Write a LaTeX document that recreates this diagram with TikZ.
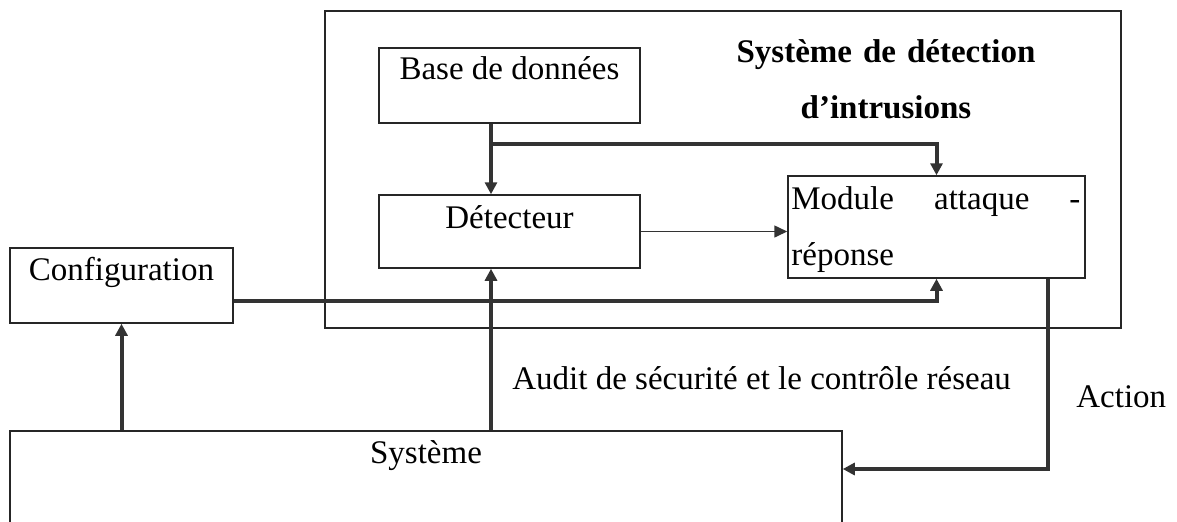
\documentclass[tikz,border=0pt]{standalone}
\usepackage{fontspec}
\setmainfont{Liberation Serif}
\usetikzlibrary{arrows.meta}
\tikzset{
  every node/.style={font=\fontsize{16.5}{28}\selectfont, inner sep=0pt},
  box/.style={draw=black!85, line width=0.75pt, rectangle},
  thick arrow/.style={draw=black!80, line width=2pt, -{Triangle[length=6pt,width=6pt]}},
  thin arrow/.style={draw=black!80, line width=0.75pt, -{Triangle[length=6.5pt,width=6pt]}},
  thick line/.style={draw=black!80, line width=2pt},
}
\begin{document}
\begin{tikzpicture}[x=0.5pt,y=-0.5pt]
\useasboundingbox (0,0) rectangle (1177,521);
% boxes
\node[box, minimum width=398pt, minimum height=158.5pt] (ids) at (723,169.5) {};
\node[box, minimum width=130.5pt, text height=15.5pt, text depth=22pt] (base) at (509.5,85.5) {Base de données};
\node[box, minimum width=130.5pt, text height=16.5pt, text depth=20pt] (det) at (509.5,231.5) {Détecteur};
\node[box, minimum width=148.5pt, minimum height=51pt] (mod) at (936.5,227) {};
\node[box, minimum width=111.5pt, text height=16pt, text depth=21.5pt] (conf) at (121.5,285.5) {Configuration};
\node[box, minimum width=416pt, text height=16pt, text depth=33.5pt] (sys) at (426,480.5) {Système};
% texts
\node[anchor=base, text width=160pt, align=center, font=\fontsize{16.5}{28}\selectfont\bfseries] (title) at (886,62) {Système de détection\\d’intrusions};
\node[anchor=base west, text width=144.5pt, align=left] (modtext) at (791,209) {Module\hfill attaque\hfill -\\réponse};
\node[anchor=base west] (audit) at (512,389) {Audit de sécurité et le contrôle réseau};
\node[anchor=base west] (action) at (1076,407) {Action};
% coordinates
\coordinate (ax) at (491,144);
\coordinate (act) at (1048,469);
% connectors
\draw[thick arrow] (base.south -| ax) -- (det.north -| ax);
\draw[thick arrow] (ax) -| (mod.north);
\draw[thin arrow] (det.east) -- (det.east -| mod.west);
\draw[thick arrow] ([yshift=-7.75pt]conf.east) -| (mod.south);
\draw[thick arrow] (sys.north -| conf.south) -- (conf.south);
\draw[thick arrow] (sys.north -| ax) -- (det.south -| ax);
\draw[thick arrow] (mod.south -| act) -- (act) -- (act -| sys.east);
\end{tikzpicture}
\end{document}
